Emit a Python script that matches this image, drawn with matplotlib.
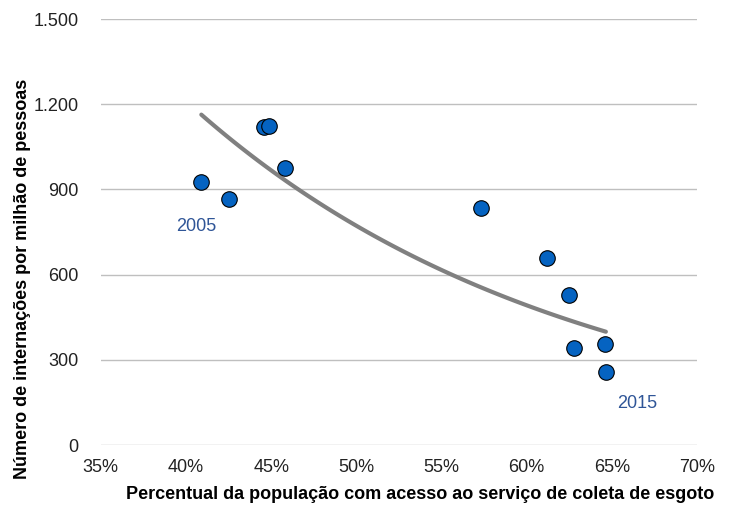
import numpy as np
import matplotlib
matplotlib.use("Agg")
import matplotlib.pyplot as plt
from matplotlib.ticker import FuncFormatter

# acesso ao esgoto (%) x internações por milhão de pessoas
coleta = [40.9, 42.5, 44.6, 44.9, 45.8, 57.3, 61.2, 62.5, 62.8, 64.6, 64.65]
internacoes = [925, 865, 1120, 1123, 977, 834, 658, 528, 341, 356, 257]

xticks = [35, 40, 45, 50, 55, 60, 65, 70]
yticks = [0, 300, 600, 900, 1200, 1500]

plt.rcParams['font.family'] = ['Liberation Sans', 'DejaVu Sans']

fig = plt.figure(figsize=(7.36, 5.14), dpi=100)
ax = fig.add_axes([0.137, 0.134, 0.81, 0.829])

# tendência exponencial (como no Excel)
b, a = np.polyfit(coleta, np.log(internacoes), 1)
xs = np.linspace(min(coleta), max(coleta), 100)
ax.plot(xs, np.exp(a + b * xs), color="#808080", lw=3, solid_capstyle="round", zorder=2)

ax.scatter(coleta, internacoes, s=125, color="#0563C1", edgecolor="black", linewidth=0.8, zorder=3)

ax.text(40.6, 770, "2005", color="#2F5597", fontsize=13, ha="center", va="center")
ax.text(66.5, 145, "2015", color="#2F5597", fontsize=13, ha="center", va="center")

ax.set_xlim(35, 70)
ax.set_ylim(0, 1500)
ax.set_xticks(xticks)
ax.set_yticks(yticks)
ax.xaxis.set_major_formatter(FuncFormatter(lambda v, p: f"{v:.0f}%"))
ax.yaxis.set_major_formatter(FuncFormatter(lambda v, p: f"{v:,.0f}".replace(",", ".")))
ax.tick_params(length=0, labelsize=13, colors="#222222")
ax.tick_params(axis="x", pad=10)
ax.tick_params(axis="y", pad=16)
ax.grid(axis="y", color="#BFBFBF", lw=1)
ax.set_axisbelow(True)
for s in ax.spines.values():
    s.set_visible(False)

ax.set_xlabel("Percentual da população com acesso ao serviço de coleta de esgoto", fontsize=13, fontweight="bold")
ax.set_ylabel("Número de internações por milhão de pessoas", fontsize=13, fontweight="bold")
ax.xaxis.set_label_coords(0.535, -0.095)
ax.yaxis.set_label_coords(-0.117, 0.39)

fig.savefig("out.png", dpi=100)
